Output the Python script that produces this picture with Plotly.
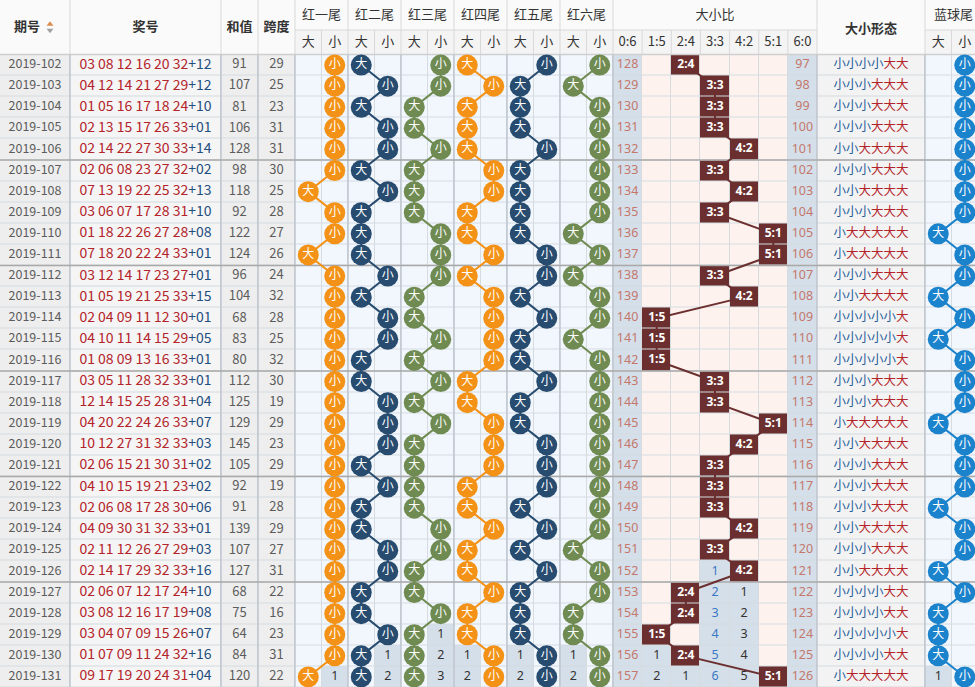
import plotly.graph_objects as go

# ---------------- data ----------------
periods = ["2019-102", "2019-103", "2019-104", "2019-105", "2019-106",
           "2019-107", "2019-108", "2019-109", "2019-110", "2019-111",
           "2019-112", "2019-113", "2019-114", "2019-115", "2019-116",
           "2019-117", "2019-118", "2019-119", "2019-120", "2019-121",
           "2019-122", "2019-123", "2019-124", "2019-125", "2019-126",
           "2019-127", "2019-128", "2019-129", "2019-130", "2019-131"]
reds = [[3, 8, 12, 16, 20, 32], [4, 12, 14, 21, 27, 29], [1, 5, 16, 17, 18, 24],
        [2, 13, 15, 17, 26, 33], [2, 14, 22, 27, 30, 33], [2, 6, 8, 23, 27, 32],
        [7, 13, 19, 22, 25, 32], [3, 6, 7, 17, 28, 31], [1, 18, 22, 26, 27, 28],
        [7, 18, 20, 22, 24, 33], [3, 12, 14, 17, 23, 27], [1, 5, 19, 21, 25, 33],
        [2, 4, 9, 11, 12, 30], [4, 10, 11, 14, 15, 29], [1, 8, 9, 13, 16, 33],
        [3, 5, 11, 28, 32, 33], [12, 14, 15, 25, 28, 31], [4, 20, 22, 24, 26, 33],
        [10, 12, 27, 31, 32, 33], [2, 6, 15, 21, 30, 31], [4, 10, 15, 19, 21, 23],
        [2, 6, 8, 17, 28, 30], [4, 9, 30, 31, 32, 33], [2, 11, 12, 26, 27, 29],
        [2, 14, 17, 29, 32, 33], [2, 6, 7, 12, 17, 24], [3, 8, 12, 16, 17, 19],
        [3, 4, 7, 9, 15, 26], [1, 7, 9, 11, 24, 32], [9, 17, 19, 20, 24, 31]]
blues = [12, 12, 10, 1, 14, 2, 13, 10, 8, 1, 1, 15, 1, 5, 1, 1, 4, 7, 3, 2,
         2, 6, 1, 3, 16, 10, 8, 7, 16, 4]
sums = [91, 107, 81, 106, 128, 98, 118, 92, 122, 124, 96, 104, 68, 83, 80,
        112, 125, 129, 145, 105, 92, 91, 139, 107, 127, 68, 75, 64, 84, 120]
spans = [29, 25, 23, 31, 31, 30, 25, 28, 27, 26, 24, 32, 28, 25, 32,
         30, 19, 29, 23, 29, 19, 28, 29, 27, 31, 22, 16, 23, 31, 22]
group_names = ["红一尾", "红二尾", "红三尾", "红四尾", "红五尾", "红六尾"]
sub_names = ["大", "小"]
ratio_labels = ["0:6", "1:5", "2:4", "3:3", "4:2", "5:1", "6:0"]
ratio_prior_miss = [127, 0, 0, 0, 0, 0, 96]   # omission before the first shown period
BIG_TAIL = 5      # tail >= 5 -> 大
BIG_NUM = 17      # number >= 17 -> 大

# ---------------- layout geometry ----------------
W, H = 975, 687
HEAD1, HEAD = 30.0, 54.5
ROW_H = 21.1
left_edges = [0, 70, 221, 258, 295]
BALL_X0, BALL_W = 295.0, 26.5
RATIO_X0, RATIO_W = 613.0, 204.0 / 7
FORM_X1 = 925.0
BLUE_X0 = 925.0

n = len(periods)
ball_edges = [BALL_X0 + k * BALL_W for k in range(13)]
ratio_edges = [RATIO_X0 + k * RATIO_W for k in range(8)]
blue_edges = [BLUE_X0 + k * BALL_W for k in range(3)]
x_edges = left_edges + ball_edges[1:] + ratio_edges[1:] + [FORM_X1] + blue_edges[1:]
y_edges = [HEAD + r * ROW_H for r in range(n + 1)]
ncol = len(x_edges) - 1
xc = [(x_edges[i] + x_edges[i + 1]) / 2 for i in range(ncol)]
yc = [(y_edges[i] + y_edges[i + 1]) / 2 for i in range(n)]

BALL_C0 = 4
RATIO_C0 = 16
FORM_C = 23
BLUE_C0 = 24

# colours
C_LEFT1, C_LEFT2, C_BALL, C_PINK, C_LAYER, C_BOX, C_FORM = (
    "#eeeeee", "#f5f5f5", "#f1f7fc", "#fdf2ee", "#d5dfe9", "#6b2f2f", "#f3f3f3")
bg_colors = [C_LEFT1, C_LEFT2, C_BALL, C_PINK, C_LAYER, C_BOX, C_FORM]
ball_colors = ["#f39216", "#274c70", "#6f8b52", "#f39216", "#274c70", "#6f8b52"]
BLUE_BALL = "#1b82cc"
RED_TXT = "#b3242a"
BLUE_TXT = "#1f4f80"

# ---------------- derived states ----------------
is_big_tail = [[(v % 10) >= BIG_TAIL for v in row] for row in reds]
ball_col = [[BALL_C0 + 2 * g + (0 if is_big_tail[i][g] else 1) for g in range(6)] for i in range(n)]
nbig = [sum(1 for v in row if v >= BIG_NUM) for row in reds]
ratio_col = [RATIO_C0 + k for k in nbig]
blue_col = [BLUE_C0 + (0 if (b % 10) >= BIG_TAIL else 1) for b in blues]


def layer(hits, prior):
    idx = [i for i, h in enumerate(hits) if h]
    out = {}
    if not idx:
        for i in range(n):
            out[i] = prior + i + 1
    else:
        last = idx[-1]
        for i in range(last + 1, n):
            out[i] = i - last
    return out


z = [[0] * ncol for _ in range(n)]
for i in range(n):
    z[i][0] = 0; z[i][1] = 1; z[i][2] = 0; z[i][3] = 0
    for c in range(BALL_C0, RATIO_C0):
        z[i][c] = 2
    for c in range(RATIO_C0, FORM_C):
        z[i][c] = 3
    z[i][FORM_C] = 6
    z[i][BLUE_C0] = 2; z[i][BLUE_C0 + 1] = 2

lay_x, lay_y, lay_t, lay_c = [], [], [], []
ratio_txt_colors = ["#c4786c", "#333333", "#333333", "#3a78c4", "#333333", "#333333", "#c4786c"]
for c in range(BALL_C0, RATIO_C0):
    g = (c - BALL_C0) // 2
    hits = [ball_col[i][g] == c for i in range(n)]
    for i, v in layer(hits, 0).items():
        z[i][c] = 4
        lay_x.append(xc[c]); lay_y.append(yc[i]); lay_t.append(str(v)); lay_c.append("#333333")
for k in range(7):
    c = RATIO_C0 + k
    hits = [ratio_col[i] == c for i in range(n)]
    for i, v in layer(hits, ratio_prior_miss[k]).items():
        z[i][c] = 4
        lay_x.append(xc[c]); lay_y.append(yc[i]); lay_t.append(str(v)); lay_c.append(ratio_txt_colors[k])
    for i in range(n):
        if hits[i]:
            z[i][c] = 5
for c in (BLUE_C0, BLUE_C0 + 1):
    hits = [blue_col[i] == c for i in range(n)]
    for i, v in layer(hits, 0).items():
        z[i][c] = 4
        lay_x.append(xc[c]); lay_y.append(yc[i]); lay_t.append(str(v)); lay_c.append("#333333")

nb = len(bg_colors)
colorscale = [[k / (nb - 1), col] for k, col in enumerate(bg_colors)]

fig = go.Figure()

# header background
fig.add_shape(type="rect", x0=0, x1=W + 5, y0=0, y1=HEAD, fillcolor="#fafafa",
              line_width=0, layer="below")
fig.add_shape(type="rect", x0=BALL_X0, x1=RATIO_X0 + 7 * RATIO_W, y0=HEAD1, y1=HEAD,
              fillcolor="#f4f4f4", line_width=0, layer="below")
fig.add_shape(type="rect", x0=BLUE_X0, x1=W + 5, y0=HEAD1, y1=HEAD,
              fillcolor="#f4f4f4", line_width=0, layer="below")

fig.add_trace(go.Heatmap(x=x_edges, y=y_edges, z=z, colorscale=colorscale, zmin=0, zmax=nb - 1,
                         showscale=False, xgap=1, ygap=1, hoverinfo="skip"))


def seg_trace(segs, color, width):
    xs, ys = [], []
    for (x0, y0, x1, y1) in segs:
        xs += [x0, x1, None]
        ys += [y0, y1, None]
    return go.Scatter(x=xs, y=ys, mode="lines", line=dict(color=color, width=width),
                      hoverinfo="skip", showlegend=False)


# header lines
hsegs = []
full_v = [70, 221, 258, 295] + ball_edges[2::2] + [817, 925]
for xv in full_v:
    hsegs.append((xv, 0, xv, HEAD))
for xv in ball_edges[1::2] + ratio_edges[1:-1] + [blue_edges[1]]:
    hsegs.append((xv, HEAD1, xv, HEAD))
hsegs.append((BALL_X0, HEAD1, 817, HEAD1))
hsegs.append((BLUE_X0, HEAD1, W + 5, HEAD1))
fig.add_trace(seg_trace(hsegs, "#d9d9d9", 1))
fig.add_trace(seg_trace([(0, HEAD, W + 5, HEAD)], "#cfcfcf", 1.5))

# body separators
vsegs = [(xv, HEAD, xv, H + 5) for xv in [70, 221, 258, 295] + ball_edges[2:-1:2] + [613, 817, 925]]
fig.add_trace(seg_trace(vsegs, "#bfc6ce", 1.5))
rsegs = [(0, y_edges[r], W + 5, y_edges[r]) for r in range(5, n, 5)]
fig.add_trace(seg_trace(rsegs, "#a9a9a9", 1.5))

# ratio connecting lines
fig.add_trace(go.Scatter(x=[xc[c] for c in ratio_col], y=yc, mode="lines",
                         line=dict(color=C_BOX, width=2), hoverinfo="skip", showlegend=False))

# ball groups
for g in range(6):
    xs = [xc[ball_col[i][g]] for i in range(n)]
    fig.add_trace(go.Scatter(x=xs, y=yc, mode="lines", line=dict(color=ball_colors[g], width=2),
                             hoverinfo="skip", showlegend=False))
for g in range(6):
    xs = [xc[ball_col[i][g]] for i in range(n)]
    txt = ["大" if is_big_tail[i][g] else "小" for i in range(n)]
    fig.add_trace(go.Scatter(x=xs, y=yc, mode="markers+text", text=txt,
                             marker=dict(size=21, color=ball_colors[g], line=dict(width=0)),
                             textfont=dict(color="white", size=12, family="Noto Sans CJK SC"),
                             textposition="middle center", hoverinfo="skip", showlegend=False))
# blue ball
bxs = [xc[c] for c in blue_col]
fig.add_trace(go.Scatter(x=bxs, y=yc, mode="lines", line=dict(color=BLUE_BALL, width=2),
                         hoverinfo="skip", showlegend=False))
fig.add_trace(go.Scatter(x=bxs, y=yc, mode="markers+text",
                         text=["大" if c == BLUE_C0 else "小" for c in blue_col],
                         marker=dict(size=21, color=BLUE_BALL, line=dict(width=0)),
                         textfont=dict(color="white", size=12, family="Noto Sans CJK SC"),
                         textposition="middle center", hoverinfo="skip", showlegend=False))

# ratio box labels
fig.add_trace(go.Scatter(x=[xc[c] for c in ratio_col], y=yc, mode="text",
                         text=["<b>%s</b>" % ratio_labels[k] for k in nbig],
                         textfont=dict(color="white", size=12, family="Noto Sans"),
                         hoverinfo="skip", showlegend=False))
# layer numbers
fig.add_trace(go.Scatter(x=lay_x, y=lay_y, mode="text", text=lay_t,
                         textfont=dict(color=lay_c, size=12.5, family="Noto Sans"),
                         hoverinfo="skip", showlegend=False))

# left text columns
fig.add_trace(go.Scatter(x=[xc[0]] * n, y=yc, mode="text", text=periods,
                         textfont=dict(color="#5c5c5c", size=12.5, family="Noto Sans CJK SC"),
                         hoverinfo="skip", showlegend=False))
num_txt = ["<span style='color:%s'>%s</span><span style='color:%s'>+%02d</span>"
           % (RED_TXT, " ".join("%02d" % v for v in reds[i]), BLUE_TXT, blues[i]) for i in range(n)]
fig.add_trace(go.Scatter(x=[xc[1]] * n, y=yc, mode="text", text=num_txt,
                         textfont=dict(size=14, family="Noto Sans CJK SC"),
                         hoverinfo="skip", showlegend=False))
fig.add_trace(go.Scatter(x=[xc[2]] * n + [xc[3]] * n, y=yc + yc, mode="text",
                         text=[str(v) for v in sums] + [str(v) for v in spans],
                         textfont=dict(color="#5c5c5c", size=13, family="Noto Sans CJK SC"),
                         hoverinfo="skip", showlegend=False))
form_txt = ["".join("<span style='color:%s'>%s</span>" % ((RED_TXT, "大") if v >= BIG_NUM else ("#1f5d9a", "小"))
                    for v in reds[i]) for i in range(n)]
fig.add_trace(go.Scatter(x=[xc[FORM_C]] * n, y=yc, mode="text", text=form_txt,
                         textfont=dict(size=12.5, family="Noto Sans CJK SC"),
                         hoverinfo="skip", showlegend=False))

# header text
hx, hy, ht = [], [], []
for lbl, c in [("<b>期号</b>", None), ("<b>奖号</b>", 1), ("<b>和值</b>", 2), ("<b>跨度</b>", 3)]:
    hx.append(27 if c is None else xc[c]); hy.append(HEAD / 2); ht.append(lbl)
for g, name in enumerate(group_names):
    hx.append((ball_edges[2 * g] + ball_edges[2 * g + 2]) / 2); hy.append(HEAD1 / 2 + 1); ht.append(name)
    for s in range(2):
        hx.append(xc[BALL_C0 + 2 * g + s]); hy.append((HEAD1 + HEAD) / 2); ht.append(sub_names[s])
hx.append((ratio_edges[0] + ratio_edges[-1]) / 2); hy.append(HEAD1 / 2 + 1); ht.append("大小比")
for k, lbl in enumerate(ratio_labels):
    hx.append(xc[RATIO_C0 + k]); hy.append((HEAD1 + HEAD) / 2); ht.append(lbl)
hx.append(xc[FORM_C]); hy.append(HEAD / 2 + 2); ht.append("<b>大小形态</b>")
hx.append(blue_edges[1] + 2); hy.append(HEAD1 / 2 + 1); ht.append("蓝球尾")
for s in range(2):
    hx.append(xc[BLUE_C0 + s]); hy.append((HEAD1 + HEAD) / 2); ht.append(sub_names[s])
fig.add_trace(go.Scatter(x=hx, y=hy, mode="text", text=ht,
                         textfont=dict(color="#333333", size=13, family="Noto Sans CJK SC"),
                         hoverinfo="skip", showlegend=False))
# sort icon
fig.add_trace(go.Scatter(x=[50, 50], y=[HEAD / 2 - 3, HEAD / 2 + 3], mode="markers",
                         marker=dict(symbol=["triangle-up", "triangle-down"], size=6,
                                     color=["#d98b4e", "#a0a0a0"]),
                         hoverinfo="skip", showlegend=False))

fig.update_layout(width=W, height=H, margin=dict(l=0, r=0, t=0, b=0),
                  paper_bgcolor="white", plot_bgcolor="#d6dbe0", showlegend=False,
                  xaxis=dict(range=[0, W], visible=False, fixedrange=True),
                  yaxis=dict(range=[H, 0], visible=False, fixedrange=True))
fig.write_html("out.html", config={"displayModeBar": False},
               post_script="document.body.style.margin='0';document.body.style.overflow='hidden';")
